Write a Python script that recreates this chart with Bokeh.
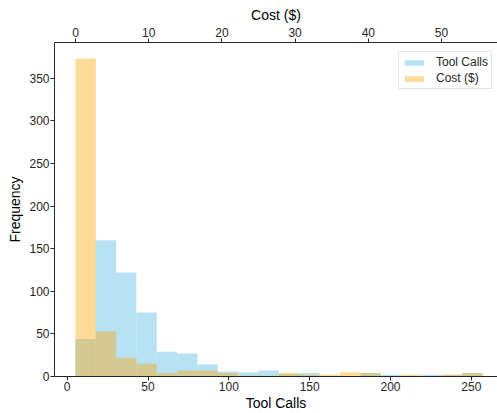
import numpy as np
from bokeh.plotting import figure
from bokeh.models import Range1d, LinearAxis, SingleIntervalTicker
from bokeh.embed import file_html
from bokeh.resources import INLINE

# ---- data ----
tool_calls_counts = [44, 160, 122, 75, 29, 27, 14, 6, 5, 7, 3, 4, 0, 0, 4, 2, 0, 2, 2, 4]
cost_counts = [373, 53, 22, 15, 4, 7, 7, 4, 1, 1, 4, 2, 2, 5, 4, 0, 2, 0, 2, 4]
tool_calls_range = [5, 257]
cost_range = [0.0, 55.6]
n_bins = 20

tool_edges = np.linspace(tool_calls_range[0], tool_calls_range[1], n_bins + 1)
cost_edges = np.linspace(cost_range[0], cost_range[1], n_bins + 1)

FONT = "Liberation Sans"
DARK = "#262626"

p = figure(width=497, height=413, output_backend="svg", toolbar_location=None,
           x_range=Range1d(-7.86, 266.2), y_range=Range1d(0, 392),
           min_border_left=54, min_border_right=0, min_border_top=42, min_border_bottom=36,
           x_axis_label="Tool Calls", y_axis_label="Frequency")
p.extra_x_ranges = {"cost": Range1d(-2.87, 57.65)}
p.outline_line_color = None
p.grid.visible = False
p.background_fill_color = "white"

p.quad(left=tool_edges[:-1], right=tool_edges[1:], bottom=0, top=tool_calls_counts,
       fill_color="skyblue", fill_alpha=0.6, line_color=None, legend_label="Tool Calls")
p.quad(left=cost_edges[:-1], right=cost_edges[1:], bottom=0, top=cost_counts,
       fill_color="orange", fill_alpha=0.4, line_color=None, legend_label="Cost ($)",
       x_range_name="cost")

top_axis = LinearAxis(x_range_name="cost", axis_label="Cost ($)")
p.add_layout(top_axis, "above")

bottom_axis = p.below[0]
left_axis = p.left[0]

bottom_axis.ticker = SingleIntervalTicker(interval=50, num_minor_ticks=0)
left_axis.ticker = SingleIntervalTicker(interval=50, num_minor_ticks=0)
top_axis.ticker = SingleIntervalTicker(interval=10, num_minor_ticks=0)

for ax in [bottom_axis, left_axis, top_axis]:
    ax.axis_line_color = DARK
    ax.axis_line_width = 1
    ax.major_tick_line_color = DARK
    ax.major_tick_out = 4
    ax.major_tick_in = 0
    ax.minor_tick_out = 0
    ax.minor_tick_in = 0
    ax.major_label_text_font = FONT
    ax.major_label_text_font_size = "12px"
    ax.major_label_text_color = DARK
    ax.major_label_standoff = 2
    ax.axis_label_text_font = FONT
    ax.axis_label_text_font_size = "14px"
    ax.axis_label_text_font_style = "normal"
    ax.axis_label_text_color = "black"
    ax.axis_label_standoff = 2

bottom_axis.major_label_standoff = 1
bottom_axis.axis_label_standoff = 1
left_axis.major_label_standoff = 1
left_axis.axis_label_standoff = 3

lg = p.legend[0]
lg.location = (344, 287)
lg.label_text_font = FONT
lg.label_text_font_size = "12px"
lg.label_text_color = DARK
lg.glyph_width = 24
lg.glyph_height = 7
lg.label_height = 13
lg.label_standoff = 10
lg.padding = 3
lg.spacing = 2
lg.margin = 0
lg.border_line_color = "#cccccc"
lg.border_line_width = 1
lg.background_fill_alpha = 1.0

open("out.html", "w").write(file_html(p, INLINE))
